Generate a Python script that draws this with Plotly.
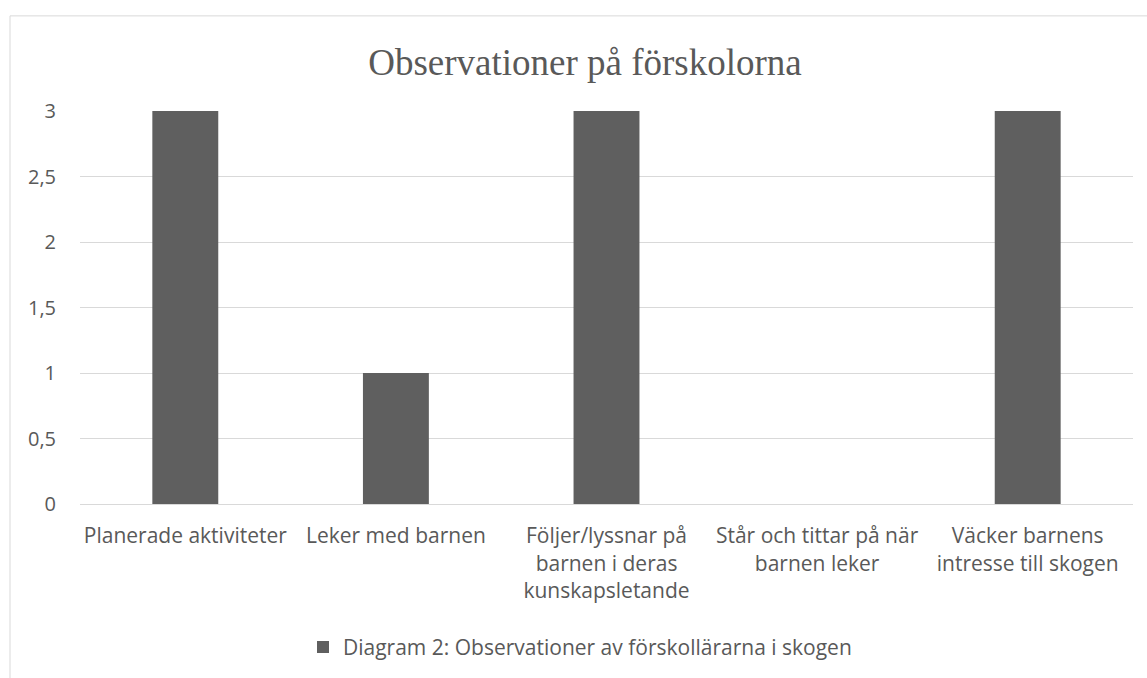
import plotly.graph_objects as go

categories = [
    "Planerade aktiviteter",
    "Leker med barnen",
    "Följer/lyssnar på<br>barnen i deras<br>kunskapsletande",
    "Står och tittar på när<br>barnen leker",
    "Väcker barnens<br>intresse till skogen",
]
values = [3, 1, 3, 0, 3]
series_name = "Diagram 2: Observationer av förskollärarna i skogen"
title_text = "Observationer på förskolorna"
y_ticks = [0, 0.5, 1, 1.5, 2, 2.5, 3]
y_labels = ["0", "0,5", "1", "1,5", "2", "2,5", "3"]

W, H = 1147, 678
L, R, T, B = 80, 14, 111, 172.5

fig = go.Figure()
fig.add_trace(go.Bar(
    x=categories, y=values, name=series_name,
    marker=dict(color="#5f5f5f", line=dict(width=0)),
    showlegend=True,
))

pw = W - L - R
ph = H - T - B
def px_x(x):
    return (x - L) / pw
def px_y(y):
    return (H - B - y) / ph

FONT = "Open Sans, Noto Sans, sans-serif"
fig.update_layout(
    width=W, height=H,
    margin=dict(l=L, r=R, t=T, b=B, pad=0),
    paper_bgcolor="white", plot_bgcolor="white",
    bargap=0.687,
    font=dict(family=FONT, size=21, color="#595959"),
    title=dict(text=title_text, x=0.51, xanchor="center", y=1 - 62 / H, yanchor="middle",
               font=dict(family="Liberation Serif, Times New Roman, serif", size=37, color="#595959")),
    showlegend=True,
    legend=dict(orientation="h", x=px_x(303), xanchor="left", y=px_y(648), yanchor="middle",
                font=dict(family=FONT, size=21, color="#595959"), itemwidth=30),
    xaxis=dict(showgrid=False, showline=True, linecolor="#d9d9d9", linewidth=1,
               ticks="", ticklabelstandoff=13, tickfont=dict(family=FONT, size=21, color="#595959"),
               fixedrange=True),
    yaxis=dict(range=[0, 3], tickvals=y_ticks, ticktext=y_labels, showgrid=True,
               gridcolor="#d9d9d9", gridwidth=1, zeroline=False, ticks="",
               ticklabelstandoff=23, tickfont=dict(family=FONT, size=20, color="#595959"), fixedrange=True),
    shapes=[
        dict(type="line", xref="paper", yref="paper", x0=px_x(10), x1=px_x(1200), y0=px_y(15.5), y1=px_y(15.5),
             line=dict(color="#d9d9d9", width=1)),
        dict(type="line", xref="paper", yref="paper", x0=px_x(10), x1=px_x(10), y0=px_y(15.5), y1=px_y(700),
             line=dict(color="#d9d9d9", width=1)),
    ],
)

fig.write_html("out.html", config={"displayModeBar": False},
               post_script="document.body.style.margin='0';document.body.style.overflow='hidden';")
